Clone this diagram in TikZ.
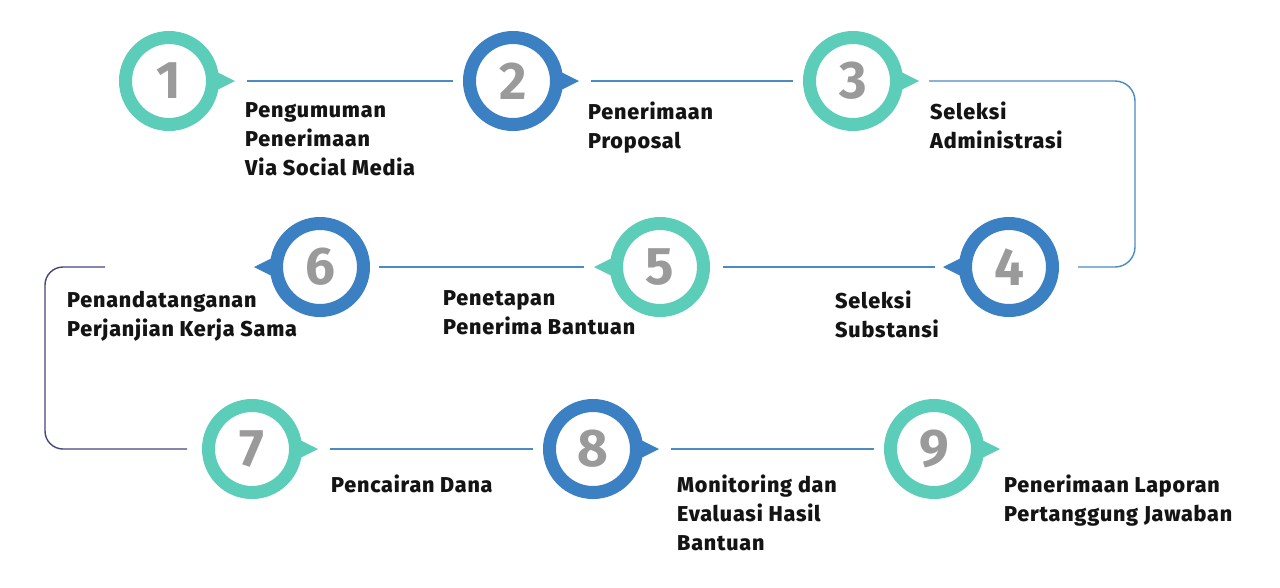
\documentclass[tikz,border=0pt]{standalone}
\usepackage{fontspec}
\setmainfont{Fira Sans}
\newfontfamily\lblfont{Fira Sans ExtraBold}[LetterSpace=3.8]
\definecolor{tl}{HTML}{5CCDB8}
\definecolor{bl}{HTML}{3A80C2}
\definecolor{ln}{HTML}{4A8CBF}
\definecolor{lp}{HTML}{46467E}
\definecolor{num}{HTML}{9A9A9A}
\tikzset{
 ring/.style={circle, draw=#1, line width=13pt, minimum size=87pt, inner sep=0pt, text=num, font=\fontsize{53}{53}\selectfont\bfseries},
 conn/.style={draw=ln, line width=1.4pt},
 lbl/.style={anchor=north west, inner sep=0pt, align=left, font=\lblfont\fontsize{21.5}{29}\selectfont, text=black!92},
}
\newcommand\ptr[3]{\fill[#3, shift={(#1.center)}, xscale=#2] (40,13) -- (66,0) -- (40,-13) -- cycle;}
\begin{document}
\begin{tikzpicture}[x=1pt,y=1pt]
\useasboundingbox[fill=white] (0,0) rectangle (1280,-587);
% circles
\node[ring=tl] (s1) at (169,-81) {1};
\node[ring=bl] (s2) at (513,-81) {2};
\node[ring=tl] (s3) at (853,-81) {3};
\node[ring=bl] (s4) at (1009,-267) {4};
\node[ring=tl] (s5) at (660,-267) {5};
\node[ring=bl] (s6) at (320,-267) {6};
\node[ring=tl] (s7) at (252,-449) {7};
\node[ring=bl] (s8) at (593,-449) {8};
\node[ring=tl] (s9) at (934,-449) {9};
% pointers
\ptr{s1}{1}{tl}
\ptr{s2}{1}{bl}
\ptr{s3}{1}{tl}
\ptr{s4}{-1}{bl}
\ptr{s5}{-1}{tl}
\ptr{s6}{-1}{bl}
\ptr{s7}{1}{tl}
\ptr{s8}{1}{bl}
\ptr{s9}{1}{tl}
% connectors
\draw[conn, shorten <=28pt, shorten >=10pt] (s1) -- (s2);
\draw[conn, shorten <=28pt, shorten >=10pt] (s2) -- (s3);
\draw[conn, rounded corners=20pt] ([xshift=26pt]s3.east) -- (1135,-81) -- (1135,-267) -- ([xshift=19pt]s4.east);
\draw[conn, shorten <=24pt, shorten >=13pt] (s4) -- (s5);
\draw[conn, shorten <=26pt, shorten >=9pt] (s5) -- (s6);
\coordinate (c6) at (105,-267);
\draw[conn, draw=lp, rounded corners=18pt] (c6) -- (45,-267) -- (45,-449) -- ([xshift=-15pt]s7.west);
\draw[conn, shorten <=28pt, shorten >=10pt] (s7) -- (s8);
\draw[conn, shorten <=28pt, shorten >=10pt] (s8) -- (s9);
% labels
\node[lbl] (l1) at (245,-102) {Pengumuman\\Penerimaan\\Via Social Media};
\node[lbl] (l2) at (588,-102) {Penerimaan\\Proposal};
\node[lbl] (l3) at (930,-102) {Seleksi\\Administrasi};
\node[lbl] (l4) at (835,-290.5) {Seleksi\\Substansi};
\node[lbl] (l5) at (443,-290.5) {Penetapan\\Penerima Bantuan};
\node[lbl] (l6) at (67,-290.5) {Penandatanganan\\Perjanjian Kerja Sama};
\node[lbl] (l7) at (331,-474.5) {Pencairan Dana};
\node[lbl] (l8) at (677,-474.5) {Monitoring dan\\Evaluasi Hasil\\Bantuan};
\node[lbl] (l9) at (1004,-474.5) {Penerimaan Laporan\\Pertanggung Jawaban};
\end{tikzpicture}
\end{document}
